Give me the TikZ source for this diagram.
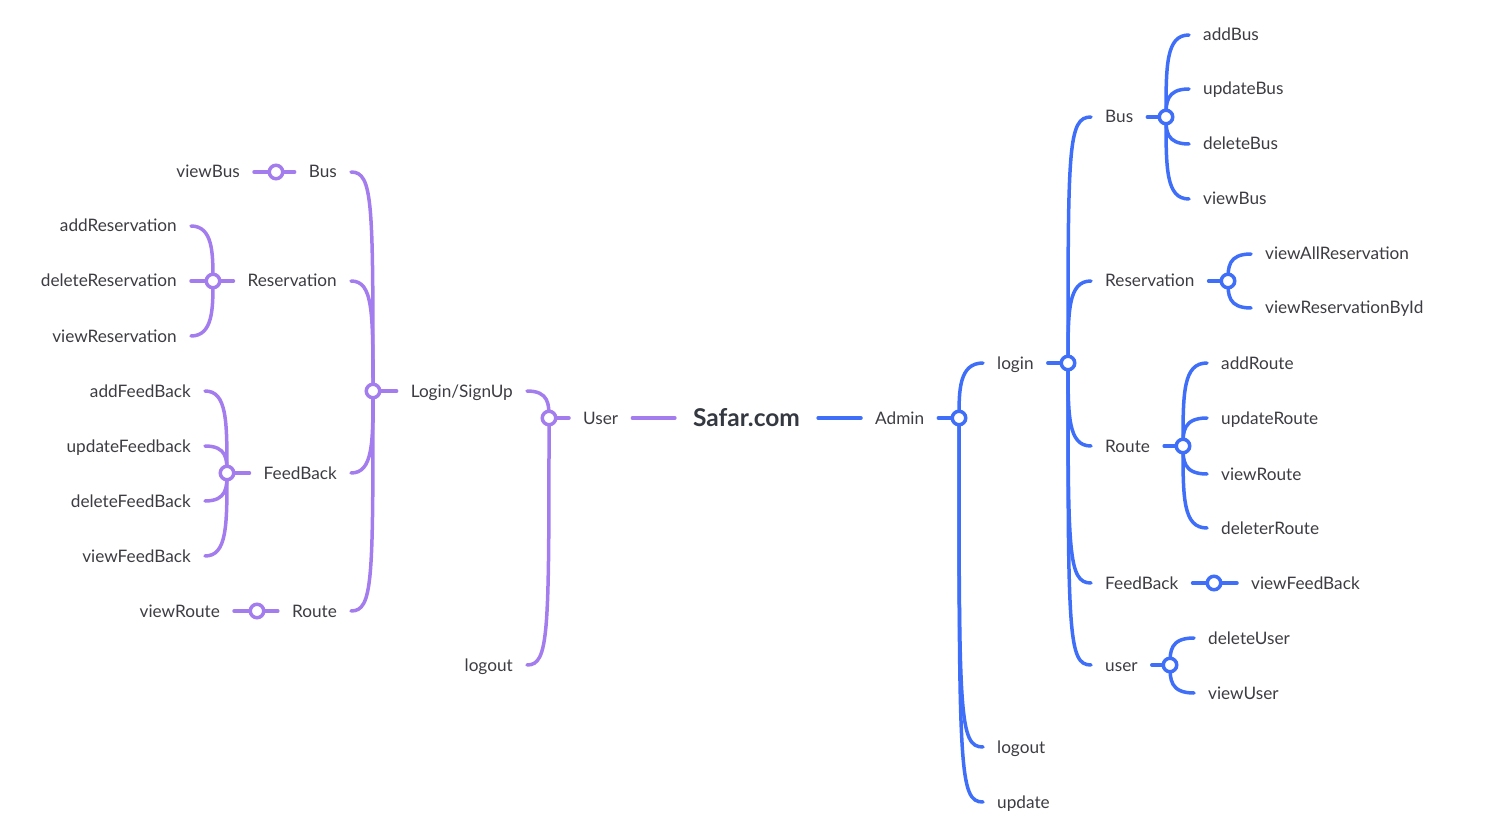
\documentclass[tikz,border=0pt]{standalone}
\usepackage{fontspec}
\setmainfont{Lato}
\usetikzlibrary{calc}
\definecolor{purp}{RGB}{163,124,238}
\definecolor{blu}{RGB}{63,111,248}
\definecolor{txtc}{RGB}{60,60,66}
\definecolor{rootc}{RGB}{52,56,64}
\pgfdeclarelayer{bg}
\pgfsetlayers{bg,main}
\tikzset{
  txt/.style={inner xsep=14pt, inner ysep=2pt, text height=12pt, text depth=0pt,
    font=\fontsize{17.2}{20}\selectfont, text=txtc},
  rootnode/.style={inner xsep=18pt, inner ysep=2pt, text height=17pt, text depth=0pt,
    font=\fontsize{24.5}{28}\selectfont\bfseries, text=rootc},
  pline/.style={draw=purp, line width=3.5pt, line cap=round},
  bline/.style={draw=blu, line width=3.5pt, line cap=round},
  pdot/.style={circle, draw=purp, fill=white, line width=3.5pt, minimum size=13.5pt, inner sep=0pt},
  bdot/.style={circle, draw=blu, fill=white, line width=3.5pt, minimum size=13.5pt, inner sep=0pt},
}
\newcommand\hookto[3]{%
  \draw[#1] let \p1=(#2.center), \p2=(#3),
    \n1={min(30,abs((\y1)-(\y2))/2)*(((\y1)>(\y2))?1:-1)} in
    (\p1) .. controls ({\x1},{\y2+\n1}) and ({\x1},{\y2}) .. (\p2);}
\begin{document}
\begin{tikzpicture}[x=1pt,y=-1pt]
\useasboundingbox (0,0) rectangle (1486,834);
% root
\node[rootnode] (root) at (746.5,418) {Safar.com};
% ---------------- left (purple) ----------------
\node[txt,anchor=west] (user) at (569,418) {User};
\node[pdot] (userc) at (549,418) {};
\node[txt,anchor=east] (lsign) at (527,391) {Login/SignUp};
\node[txt,anchor=east] (llogout) at (527,665) {logout};
\node[pdot] (lsignc) at (373,391) {};
\node[txt,anchor=east] (lbus) at (351,172) {Bus};
\node[pdot] (lbusc) at (276,172) {};
\node[txt,anchor=east] (lviewbus) at (254,172) {viewBus};
\node[txt,anchor=east] (lres) at (351,281) {Reservation};
\node[pdot] (lresc) at (213,281) {};
\node[txt,anchor=east] (laddres) at (191,226) {addReservation};
\node[txt,anchor=east] (ldelres) at (191,281) {deleteReservation};
\node[txt,anchor=east] (lviewres) at (191,336) {viewReservation};
\node[txt,anchor=east] (lfb) at (351,473) {FeedBack};
\node[pdot] (lfbc) at (227,473) {};
\node[txt,anchor=east] (laddfb) at (205,391) {addFeedBack};
\node[txt,anchor=east] (lupdfb) at (205,446) {updateFeedback};
\node[txt,anchor=east] (ldelfb) at (205,501) {deleteFeedBack};
\node[txt,anchor=east] (lviewfb) at (205,556) {viewFeedBack};
\node[txt,anchor=east] (lroute) at (351,611) {Route};
\node[pdot] (lroutec) at (257,611) {};
\node[txt,anchor=east] (lviewroute) at (234,611) {viewRoute};
% ---------------- right (blue) ----------------
\node[txt,anchor=west] (admin) at (861,418) {Admin};
\node[bdot] (adminc) at (959,418) {};
\node[txt,anchor=west] (rlogin) at (983,363) {login};
\node[txt,anchor=west] (rlogout) at (983,747) {logout};
\node[txt,anchor=west] (rupdate) at (983,802) {update};
\node[bdot] (rloginc) at (1068,363) {};
\node[txt,anchor=west] (rbus) at (1091,117) {Bus};
\node[bdot] (rbusc) at (1166,117) {};
\node[txt,anchor=west] (raddbus) at (1189,35) {addBus};
\node[txt,anchor=west] (rupdbus) at (1189,89) {updateBus};
\node[txt,anchor=west] (rdelbus) at (1189,144) {deleteBus};
\node[txt,anchor=west] (rviewbus) at (1189,199) {viewBus};
\node[txt,anchor=west] (rres) at (1091,281) {Reservation};
\node[bdot] (rresc) at (1228,281) {};
\node[txt,anchor=west] (rviewall) at (1251,254) {viewAllReservation};
\node[txt,anchor=west] (rviewbyid) at (1251,308) {viewReservationById};
\node[txt,anchor=west] (rroute) at (1091,446) {Route};
\node[bdot] (rroutec) at (1183,446) {};
\node[txt,anchor=west] (raddroute) at (1207,363) {addRoute};
\node[txt,anchor=west] (rupdroute) at (1207,418) {updateRoute};
\node[txt,anchor=west] (rviewroute) at (1207,474) {viewRoute};
\node[txt,anchor=west] (rdelroute) at (1207,528) {deleterRoute};
\node[txt,anchor=west] (rfb) at (1091,583) {FeedBack};
\node[bdot] (rfbc) at (1214,583) {};
\node[txt,anchor=west] (rviewfb) at (1237,583) {viewFeedBack};
\node[txt,anchor=west] (ruser) at (1091,665) {user};
\node[bdot] (ruserc) at (1170,665) {};
\node[txt,anchor=west] (rdeluser) at (1194,638) {deleteUser};
\node[txt,anchor=west] (rviewuser) at (1194,693) {viewUser};
% ---------------- connectors ----------------
\begin{pgfonlayer}{bg}
% left
\draw[pline] (root.west) -- (user.east);
\draw[pline] (userc) -- (user.west);
\hookto{pline}{userc}{lsign.east}
\hookto{pline}{userc}{llogout.east}
\draw[pline] (lsignc) -- (lsign.west);
\hookto{pline}{lsignc}{lbus.east}
\hookto{pline}{lsignc}{lres.east}
\hookto{pline}{lsignc}{lfb.east}
\hookto{pline}{lsignc}{lroute.east}
\draw[pline] (lbusc) -- (lbus.west);
\draw[pline] (lbusc) -- (lviewbus.east);
\draw[pline] (lresc) -- (lres.west);
\hookto{pline}{lresc}{laddres.east}
\hookto{pline}{lresc}{ldelres.east}
\hookto{pline}{lresc}{lviewres.east}
\draw[pline] (lfbc) -- (lfb.west);
\hookto{pline}{lfbc}{laddfb.east}
\hookto{pline}{lfbc}{lupdfb.east}
\hookto{pline}{lfbc}{ldelfb.east}
\hookto{pline}{lfbc}{lviewfb.east}
\draw[pline] (lroutec) -- (lroute.west);
\draw[pline] (lroutec) -- (lviewroute.east);
% right
\draw[bline] (root.east) -- (admin.west);
\draw[bline] (admin.east) -- (adminc);
\hookto{bline}{adminc}{rlogin.west}
\hookto{bline}{adminc}{rlogout.west}
\hookto{bline}{adminc}{rupdate.west}
\draw[bline] (rlogin.east) -- (rloginc);
\hookto{bline}{rloginc}{rbus.west}
\hookto{bline}{rloginc}{rres.west}
\hookto{bline}{rloginc}{rroute.west}
\hookto{bline}{rloginc}{rfb.west}
\hookto{bline}{rloginc}{ruser.west}
\draw[bline] (rbus.east) -- (rbusc);
\hookto{bline}{rbusc}{raddbus.west}
\hookto{bline}{rbusc}{rupdbus.west}
\hookto{bline}{rbusc}{rdelbus.west}
\hookto{bline}{rbusc}{rviewbus.west}
\draw[bline] (rres.east) -- (rresc);
\hookto{bline}{rresc}{rviewall.west}
\hookto{bline}{rresc}{rviewbyid.west}
\draw[bline] (rroute.east) -- (rroutec);
\hookto{bline}{rroutec}{raddroute.west}
\hookto{bline}{rroutec}{rupdroute.west}
\hookto{bline}{rroutec}{rviewroute.west}
\hookto{bline}{rroutec}{rdelroute.west}
\draw[bline] (rfb.east) -- (rfbc);
\draw[bline] (rfbc) -- (rviewfb.west);
\draw[bline] (ruser.east) -- (ruserc);
\hookto{bline}{ruserc}{rdeluser.west}
\hookto{bline}{ruserc}{rviewuser.west}
\end{pgfonlayer}
\end{tikzpicture}
\end{document}
